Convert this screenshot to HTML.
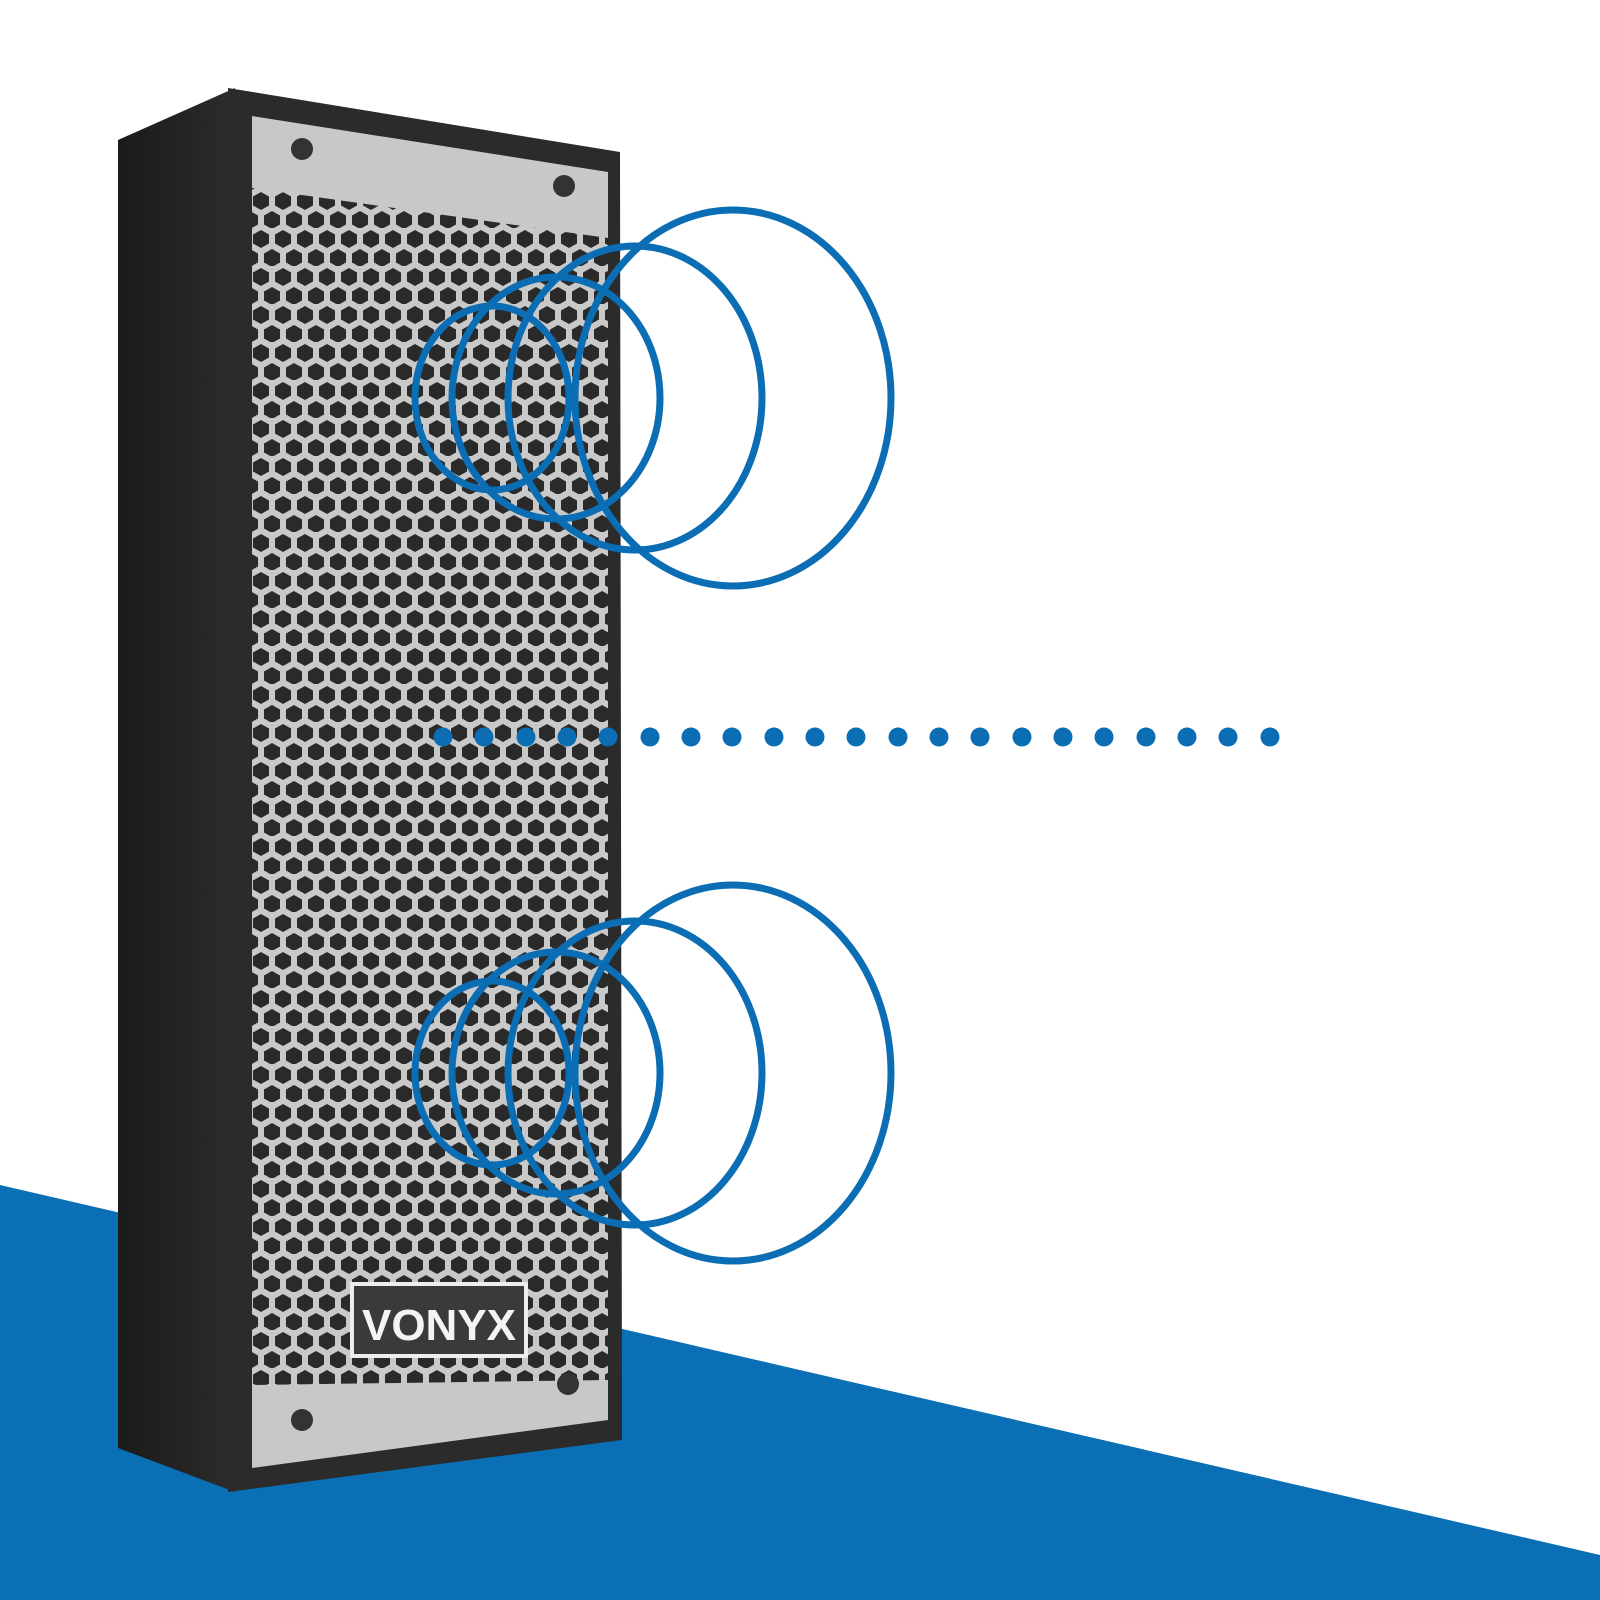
<!DOCTYPE html>
<html><head><meta charset="utf-8"><style>html,body{margin:0;padding:0;background:#fff}svg{display:block}</style></head>
<body>
<svg width="1600" height="1600" viewBox="0 0 1600 1600" xmlns="http://www.w3.org/2000/svg">
<defs>
<pattern id="hex" width="22" height="38" patternUnits="userSpaceOnUse" x="250" y="190">
<rect width="22" height="38" fill="#c9c9c9"/>
<polygon points="11,2 19,6.5 19,15.5 11,20 3,15.5 3,6.5" fill="#2a2a2a"/>
<polygon points="0,21 8,25.5 8,34.5 0,39 -8,34.5 -8,25.5" fill="#2a2a2a"/>
<polygon points="22,21 30,25.5 30,34.5 22,39 14,34.5 14,25.5" fill="#2a2a2a"/>
</pattern>
<linearGradient id="side" x1="0" x2="1"><stop offset="0" stop-color="#1a1a1a"/><stop offset="1" stop-color="#2c2c2c"/></linearGradient>
</defs>
<rect width="1600" height="1600" fill="#fff"/>
<polygon points="0,1185 1600,1555 1600,1600 0,1600" fill="#0a6fb4"/>
<!-- side -->
<polygon points="118,140 235,88 235,1492 118,1448" fill="url(#side)"/>
<!-- front frame -->
<polygon points="228,88 620,152 622,1440 228,1492" fill="#2b2b2b"/>
<!-- plate -->
<polygon points="252,116 608,172 608,1420 252,1468" fill="#c8c8c8"/>
<!-- grille -->
<polygon points="252,188 608,238 608,1380 252,1385" fill="url(#hex)"/>
<!-- screws -->
<circle cx="302" cy="149" r="11" fill="#333"/><circle cx="564" cy="186" r="11" fill="#333"/>
<circle cx="302" cy="1420" r="11" fill="#333"/><circle cx="568" cy="1384" r="11" fill="#333"/>
<!-- logo -->
<rect x="352" y="1284" width="174" height="72" fill="#3a3a3a" stroke="#eee" stroke-width="4"/>
<text x="439" y="1340" text-anchor="middle" font-family="Liberation Sans, sans-serif" font-weight="bold" font-size="44" fill="#f4f4f4">VONYX</text>
<g fill="none" stroke="#0b6db3" stroke-width="7">
<ellipse cx="733" cy="398" rx="158" ry="188"/>
<ellipse cx="635" cy="398" rx="127" ry="152"/>
<ellipse cx="556" cy="398" rx="104" ry="121"/>
<ellipse cx="492" cy="398" rx="77" ry="92"/>
<ellipse cx="733" cy="1073" rx="158" ry="188"/>
<ellipse cx="635" cy="1073" rx="127" ry="152"/>
<ellipse cx="556" cy="1073" rx="104" ry="121"/>
<ellipse cx="492" cy="1073" rx="77" ry="92"/>
</g>
<g fill="#0b6db3">
<circle cx="443" cy="737" r="9.5"/><circle cx="484" cy="737" r="9.5"/><circle cx="526" cy="737" r="9.5"/><circle cx="567" cy="737" r="9.5"/><circle cx="608" cy="737" r="9.5"/><circle cx="650" cy="737" r="9.5"/><circle cx="691" cy="737" r="9.5"/><circle cx="732" cy="737" r="9.5"/><circle cx="774" cy="737" r="9.5"/><circle cx="815" cy="737" r="9.5"/><circle cx="856" cy="737" r="9.5"/><circle cx="898" cy="737" r="9.5"/><circle cx="939" cy="737" r="9.5"/><circle cx="980" cy="737" r="9.5"/><circle cx="1022" cy="737" r="9.5"/><circle cx="1063" cy="737" r="9.5"/><circle cx="1104" cy="737" r="9.5"/><circle cx="1146" cy="737" r="9.5"/><circle cx="1187" cy="737" r="9.5"/><circle cx="1228" cy="737" r="9.5"/><circle cx="1270" cy="737" r="9.5"/>
</g>
</svg>
</body></html>
